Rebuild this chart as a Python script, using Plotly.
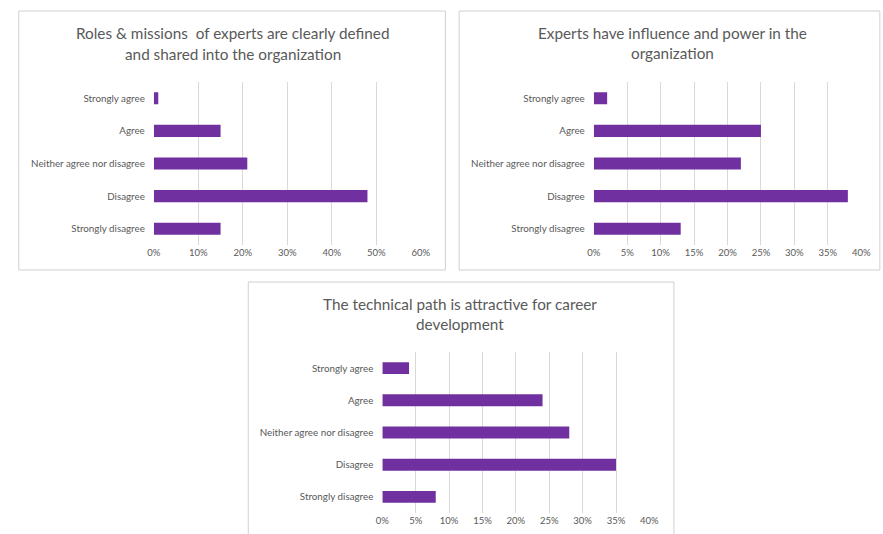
import plotly.graph_objects as go

categories = ["Strongly agree", "Agree", "Neither agree nor disagree", "Disagree", "Strongly disagree"]
roles_values = [0.01, 0.15, 0.21, 0.48, 0.15]
influence_values = [0.02, 0.25, 0.22, 0.38, 0.13]
career_values = [0.04, 0.24, 0.28, 0.35, 0.08]
titles = [
    ["Roles & missions  of experts are clearly defined", "and shared into the organization"],
    ["Experts have influence and power in the", "organization"],
    ["The technical path is attractive for career", "development"],
]

W, H = 883, 534
PURPLE = "#7030A0"
GRID = "#d9d9d9"
TXT = "#595959"
FONT = "Lato"

def px(x):
    return x / W

def py(y):
    return 1 - y / H

fig = go.Figure()
series = [roles_values, influence_values, career_values]
for i, vals in enumerate(series):
    sfx = "" if i == 0 else str(i + 1)
    fig.add_trace(go.Bar(
        x=vals, y=categories, orientation="h",
        marker=dict(color=PURPLE, line=dict(width=0)),
        xaxis="x" + sfx, yaxis="y" + sfx, showlegend=False,
        hoverinfo="x+y",
    ))

panels = [
    dict(x0=149.7, x1=422.0, yt=82, yb=245, rmax=0.6, dtick=0.1),
    dict(x0=598.3, x1=871.0, yt=82, yb=245, rmax=0.4, dtick=0.05),
    dict(x0=382.7, x1=655.0, yt=352, yb=513, rmax=0.4, dtick=0.05),
]

layout = dict(
    width=W, height=H, margin=dict(l=0, r=0, t=0, b=0),
    paper_bgcolor="white", plot_bgcolor="white",
    bargap=0.63, font=dict(family=FONT, color=TXT),
)
for i, p in enumerate(panels):
    sfx = "" if i == 0 else str(i + 1)
    layout["xaxis" + sfx] = dict(
        domain=[px(p["x0"]), px(p["x1"])], range=[0, p["rmax"]],
        dtick=p["dtick"], tick0=0, tickformat=".0%",
        showgrid=True, gridcolor=GRID, gridwidth=1, zeroline=False,
        showline=False, tickfont=dict(size=9.5, color=TXT, family=FONT),
        anchor="y" + sfx, fixedrange=True,
    )
    layout["yaxis" + sfx] = dict(
        domain=[py(p["yb"]), py(p["yt"])], autorange="reversed",
        showgrid=False, zeroline=False, showline=False,
        tickfont=dict(size=9.8, color=TXT, family=FONT),
        ticklabelstandoff=8, anchor="x" + sfx, fixedrange=True,
    )

fig.update_layout(**layout)

boxes = [(12, 447, 11, 270), (461, 890, 11, 270), (246, 680, 282, 545)]
for (x0, x1, y0, y1) in boxes:
    fig.add_shape(type="rect", xref="paper", yref="paper",
                  x0=px(x0), x1=px(x1), y0=py(y1), y1=py(y0),
                  line=dict(color="#d0d0d0", width=1), layer="below")

title_pos = [(230, 33, 54), (679, 33, 53), (462, 304, 324)]
for (cx, y1, y2), lines in zip(title_pos, titles):
    for yy, t in zip((y1, y2), lines):
        fig.add_annotation(text=t, x=px(cx), y=py(yy), xref="paper", yref="paper",
                           showarrow=False, xanchor="center", yanchor="middle",
                           font=dict(size=15.3, color=TXT, family=FONT))

fig.write_html("out.html", config={"displayModeBar": False},
               post_script="document.body.style.margin='0';document.body.style.overflow='hidden';")
